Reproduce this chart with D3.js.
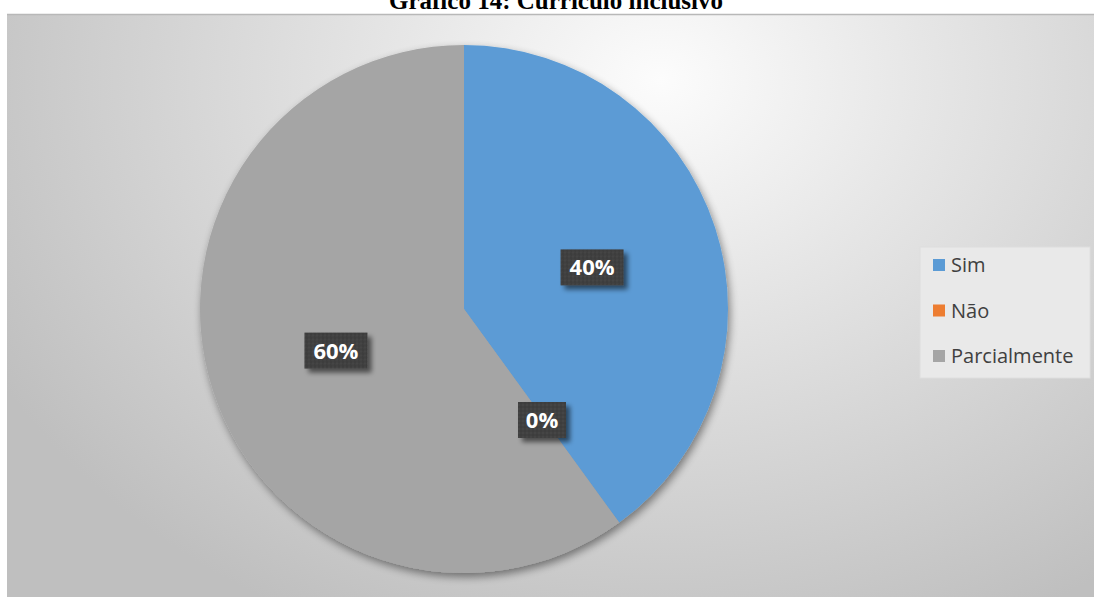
<!DOCTYPE html>
<html>
<head>
<meta charset="utf-8">
<script src="https://cdn.jsdelivr.net/npm/d3@7"></script>
<style>
  html, body { margin: 0; padding: 0; background: #ffffff; }
  svg { display: block; }
</style>
</head>
<body>
<svg id="chart" width="1094" height="597"></svg>
<script>
// Survey answers for "Currículo inclusivo"
const categories = ["Sim", "Não", "Parcialmente"];
const values = [40, 0, 60];
const colors = ["#5B9BD5", "#ED7D31", "#A5A5A5"];
const titleText = "Gráfico 14: Currículo inclusivo";

const W = 1094, H = 597;
const svg = d3.select("#chart");
const defs = svg.append("defs");

// Chart area background: soft radial gradient, brightest toward the upper middle
const bg = defs.append("radialGradient")
  .attr("id", "bgGrad")
  .attr("gradientUnits", "userSpaceOnUse")
  .attr("cx", 660).attr("cy", 80).attr("r", 760)
  .attr("gradientTransform", "translate(660,80) scale(1,0.8) translate(-660,-80)");
bg.append("stop").attr("offset", 0).attr("stop-color", "#fcfcfc");
bg.append("stop").attr("offset", 0.35).attr("stop-color", "#e6e6e6");
bg.append("stop").attr("offset", 1).attr("stop-color", "#bfbfbf");

// Drop shadow used by the pie
const sh = defs.append("filter").attr("id", "shadow")
  .attr("x", "-20%").attr("y", "-20%").attr("width", "140%").attr("height", "140%");
sh.append("feGaussianBlur").attr("in", "SourceAlpha").attr("stdDeviation", 4).attr("result", "b");
sh.append("feOffset").attr("in", "b").attr("dx", 2).attr("dy", 4).attr("result", "o");
sh.append("feComponentTransfer").attr("in", "o").attr("result", "s")
  .append("feFuncA").attr("type", "linear").attr("slope", 0.45);
const m = sh.append("feMerge");
m.append("feMergeNode").attr("in", "s");
m.append("feMergeNode").attr("in", "SourceGraphic");

// Shadow for label boxes
const lblSh = defs.append("filter").attr("id", "lblShadow")
  .attr("x", "-30%").attr("y", "-30%").attr("width", "170%").attr("height", "180%");
lblSh.append("feGaussianBlur").attr("in", "SourceAlpha").attr("stdDeviation", 2.5).attr("result", "b");
lblSh.append("feOffset").attr("in", "b").attr("dx", 4).attr("dy", 4).attr("result", "o");
lblSh.append("feComponentTransfer").attr("in", "o").attr("result", "s")
  .append("feFuncA").attr("type", "linear").attr("slope", 0.55);
const m2 = lblSh.append("feMerge");
m2.append("feMergeNode").attr("in", "s");
m2.append("feMergeNode").attr("in", "SourceGraphic");

// Dotted texture for label boxes
const pat = defs.append("pattern").attr("id", "dots")
  .attr("patternUnits", "userSpaceOnUse").attr("width", 4).attr("height", 4);
pat.append("rect").attr("width", 4).attr("height", 4).attr("fill", "#404040");
pat.append("circle").attr("cx", 1).attr("cy", 1).attr("r", 0.8).attr("fill", "#4c4c4c");
pat.append("circle").attr("cx", 3).attr("cy", 3).attr("r", 0.8).attr("fill", "#363636");

// Chart area
const area = { x: 7, y: 14, w: W - 7, h: H - 14 };
svg.append("rect")
  .attr("x", area.x).attr("y", area.y)
  .attr("width", area.w).attr("height", area.h)
  .attr("fill", "url(#bgGrad)");
svg.append("line")
  .attr("x1", area.x).attr("x2", W).attr("y1", area.y + 0.5).attr("y2", area.y + 0.5)
  .attr("stroke", "#b8b8b8").attr("stroke-width", 1.5);

// Title (its upper part runs off the top of the page)
svg.append("text")
  .attr("x", 556).attr("y", 9)
  .attr("text-anchor", "middle")
  .attr("font-family", "'Liberation Serif', 'Times New Roman', serif")
  .attr("font-weight", "bold")
  .attr("font-size", 25)
  .attr("fill", "#000")
  .text(titleText);

// Pie
const cx = 464, cy = 309, R = 264;
const data = categories.map((c, i) => ({ cat: c, value: values[i], color: colors[i] }));
const pie = d3.pie().value(d => d.value).sort(null);
const arcs = pie(data);
const arc = d3.arc().innerRadius(0).outerRadius(R);
const labelArc = d3.arc().innerRadius(R * 0.51).outerRadius(R * 0.51);

const g = svg.append("g").attr("transform", `translate(${cx},${cy})`);
g.append("g").attr("filter", "url(#shadow)")
  .selectAll("path")
  .data(arcs)
  .join("path")
  .attr("d", arc)
  .attr("fill", d => d.data.color)
  .attr("stroke", "none");

// Percentage labels on dark boxes
const total = d3.sum(values);
const labels = g.selectAll("g.lbl")
  .data(arcs)
  .join("g")
  .attr("class", "lbl")
  .attr("transform", d => {
    let [x, y] = labelArc.centroid(d);
    if (d.data.value === 0) { [x, y] = [78, 111]; }
    return `translate(${x},${y})`;
  });

labels.each(function(d) {
  const sel = d3.select(this);
  const txt = Math.round(d.data.value / total * 100) + "%";
  const w = txt.length === 2 ? 48 : 63;
  sel.append("rect")
    .attr("x", -w / 2).attr("y", -18)
    .attr("width", w).attr("height", 36)
    .attr("fill", "url(#dots)")
    .attr("filter", "url(#lblShadow)");
  sel.append("text")
    .attr("text-anchor", "middle")
    .attr("dy", "0.36em")
    .attr("font-family", "'Open Sans', 'Noto Sans', sans-serif")
    .attr("font-weight", "bold")
    .attr("font-size", 22)
    .attr("fill", "#ffffff")
    .text(txt);
});

// Legend
const lg = svg.append("g").attr("transform", "translate(920,247)");
lg.append("rect")
  .attr("width", 170).attr("height", 131)
  .attr("fill", "#e9e9e9").attr("stroke", "#dedede").attr("stroke-width", 1);
const items = lg.selectAll("g.item")
  .data(data)
  .join("g")
  .attr("class", "item")
  .attr("transform", (d, i) => `translate(0,${18 + i * 45.5})`);
items.append("rect")
  .attr("x", 13).attr("y", -6).attr("width", 12).attr("height", 12)
  .attr("fill", d => d.color);
items.append("text")
  .attr("x", 31).attr("dy", "0.36em")
  .attr("font-family", "'Open Sans', 'Noto Sans', sans-serif")
  .attr("font-size", 20)
  .attr("fill", "#404040")
  .text(d => d.cat);
</script>
</body>
</html>
